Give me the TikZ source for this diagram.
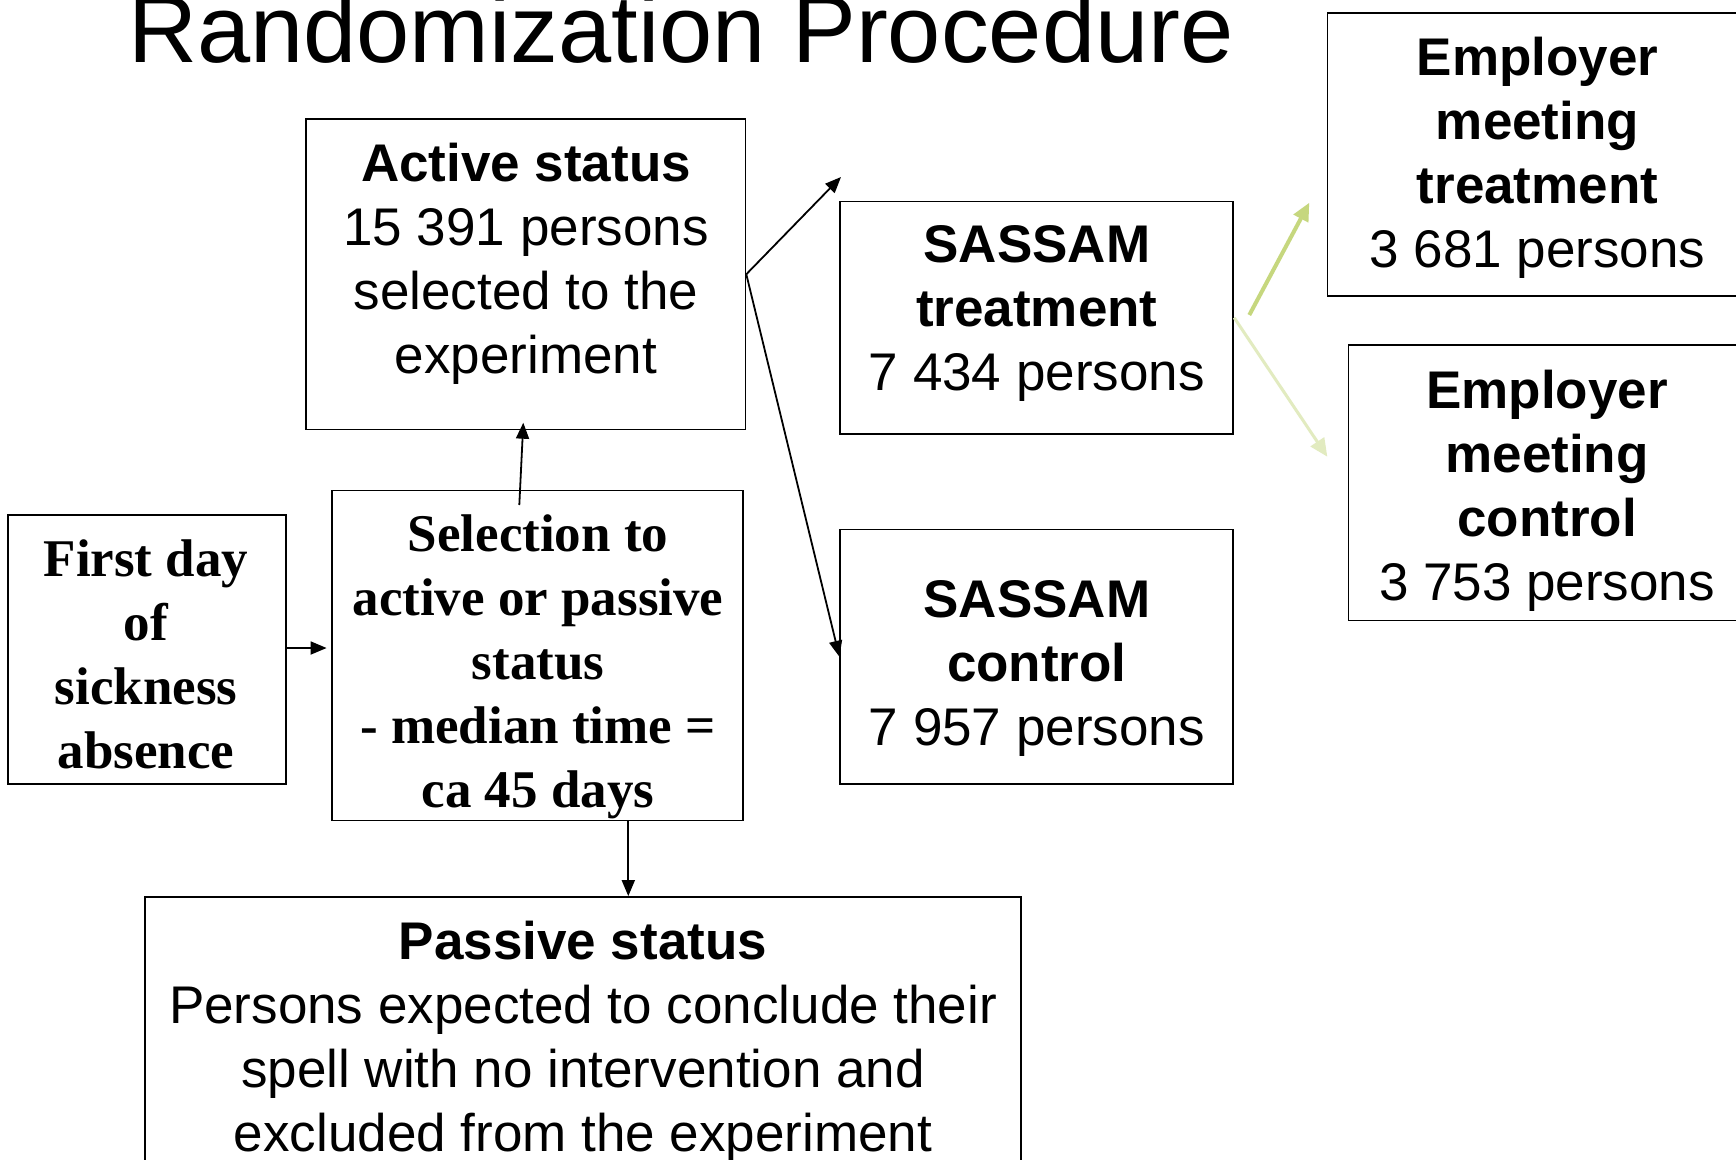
\documentclass[tikz,border=0pt]{standalone}
\usepackage{fontspec}
\setmainfont{Liberation Serif}
\newfontfamily\arialf{Liberation Sans}
\newfontfamily\timesf{Liberation Serif}
\usetikzlibrary{arrows.meta}
\definecolor{greenA}{RGB}{198,215,126}
\definecolor{greenB}{RGB}{226,235,192}
\begin{document}
\begin{tikzpicture}[x=1pt,y=-1pt,
  box/.style={draw, line width=1.8pt, inner sep=0pt, rectangle},
  txt/.style={anchor=north, align=center, inner sep=0pt, font=\arialf\fontsize{53}{64}\selectfont},
  stxt/.style={anchor=north, align=center, inner sep=0pt, font=\timesf\bfseries\fontsize{53}{64}\selectfont},
  arr/.style={-{Triangle[length=16pt,width=13pt]}, line width=1.8pt},
  garrA/.style={-{Triangle[length=18pt,width=16pt]}, line width=4pt, draw=greenA, fill=greenA},
  garrB/.style={-{Triangle[length=18pt,width=16pt]}, line width=3pt, draw=greenB, fill=greenB}
]
\useasboundingbox (0,0) rectangle (1736,1159);
\clip (0,0) rectangle (1736,1159);
\fill[white] (0,0) rectangle (1736,1159);

% title
\node[anchor=base, inner sep=0pt, font=\arialf\fontsize{95.6}{110}\selectfont] (title) at (681,62) {Randomization Procedure};

% boxes
\node[box, minimum width=439.8pt, minimum height=310.5pt] (act) at (525.5,274.25) {};
\node[box, minimum width=411pt, minimum height=330pt] (sel) at (537.5,655.5) {};
\node[box, minimum width=278pt, minimum height=269pt] (first) at (147,649.3) {};
\node[box, minimum width=393pt, minimum height=232.5pt] (sasT) at (1036.8,317.75) {};
\node[box, minimum width=393pt, minimum height=254.5pt] (sasC) at (1036.8,656.75) {};
\node[box, minimum width=432.5pt, minimum height=282.7pt] (empT) at (1543.75,154.65) {};
\node[box, minimum width=411.6pt, minimum height=275.5pt] (empC) at (1554.2,482.75) {};
\node[box, minimum width=876pt, minimum height=303pt] (pas) at (583,1048.5) {};

% texts
\node[txt] (actT) at (526,142.5) {\bfseries Active status\\15 391 persons\\selected to the\\experiment};
\node[stxt] (selT) at (538,515) {Selection to\\active or passive\\status\\- median time =\\ca 45 days};
\node[stxt] (firstT) at (146,540) {First day\\of\\sickness\\absence};
\node[txt] (sasTT) at (1036.8,225) {\bfseries SASSAM\\\bfseries treatment\\7 434 persons};
\node[txt] (sasCT) at (1036.8,580) {\bfseries SASSAM\\\bfseries control\\7 957 persons};
\node[txt] (empTT) at (1537.5,37) {\bfseries Employer\\\bfseries meeting\\\bfseries treatment\\3 681 persons};
\node[txt] (empCT) at (1547,369.5) {\bfseries Employer\\\bfseries meeting\\\bfseries control\\3 753 persons};
\node[txt] (pasT) at (583,920.5) {\bfseries Passive status\\Persons expected to conclude their\\spell with no intervention and\\excluded from the experiment};

% connector helper coordinates
\coordinate (tipT) at (841,177);
\coordinate (selUp) at (519.3,505);
\coordinate (actIn) at (523.3,422.7);
\coordinate (selIn) at (326.6,648);
\coordinate (dx) at (628.3,0);
\coordinate (gAs) at (1249.3,315);
\coordinate (gAe) at (1309.3,202.7);
\coordinate (gBe) at (1327.3,456.7);

% connectors
\draw[arr] (act.east) -- (tipT);
\draw[arr] (act.east) -- (sasC.west);
\draw[arr] (selUp) -- (actIn);
\draw[arr] (first.east |- selIn) -- (selIn);
\draw[arr] (sel.south -| dx) -- (pas.north -| dx);
\draw[garrA] (gAs) -- (gAe);
\draw[garrB] (sasT.east) -- (gBe);
\end{tikzpicture}
\end{document}
